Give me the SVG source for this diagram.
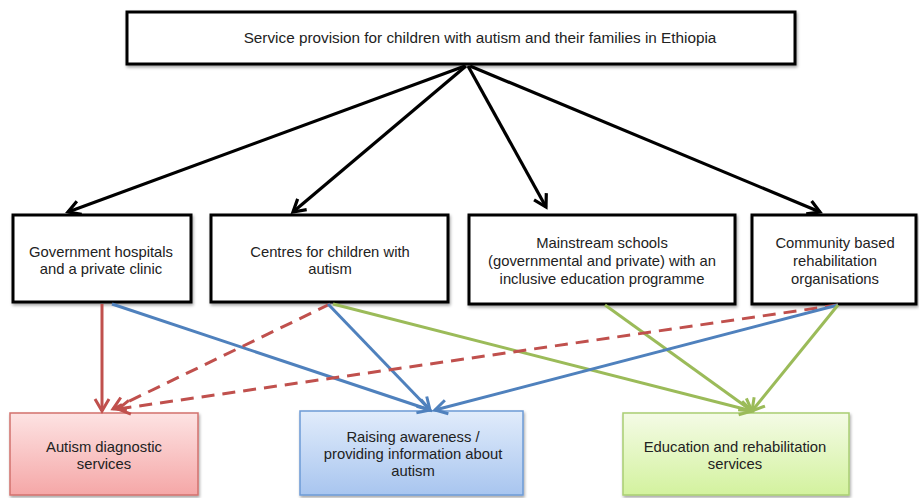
<svg xmlns="http://www.w3.org/2000/svg" width="919" height="498" viewBox="0 0 919 498">
<style>
text{font-family:"Liberation Sans",Arial,sans-serif;fill:#222;text-anchor:middle}
.t{font-size:15.3px}
.m{font-size:14.8px}
.box{fill:#fff;stroke:#000;stroke-width:3}
.blk{stroke:#000;stroke-width:3.2;fill:none}
.c{stroke-width:3;fill:none}
.red{stroke:#c0504d}
.blue{stroke:#4f81bd}
.green{stroke:#9bbb59}
.dash{stroke-dasharray:13 8}
</style>
<defs>
<filter id="sh" x="-5%" y="-5%" width="115%" height="120%">
<feDropShadow dx="1" dy="2" stdDeviation="1.5" flood-color="#000" flood-opacity="0.35"/>
</filter>
<linearGradient id="gr" x1="0" y1="0" x2="0" y2="1"><stop offset="0" stop-color="#fde3e3"/><stop offset="1" stop-color="#f5a7a7"/></linearGradient>
<linearGradient id="gb" x1="0" y1="0" x2="0" y2="1"><stop offset="0" stop-color="#e1ecfb"/><stop offset="1" stop-color="#a8c5ef"/></linearGradient>
<linearGradient id="gg" x1="0" y1="0" x2="0" y2="1"><stop offset="0" stop-color="#f4fbe6"/><stop offset="1" stop-color="#d3f29e"/></linearGradient>
<marker id="ak" markerUnits="userSpaceOnUse" markerWidth="20" markerHeight="20" refX="16" refY="10" orient="auto"><path d="M4,3 L16,10 L4,17" fill="none" stroke="#000" stroke-width="3.2"/></marker>
<marker id="ar" markerUnits="userSpaceOnUse" markerWidth="20" markerHeight="20" refX="16" refY="10" orient="auto"><path d="M4,3 L16,10 L4,17" fill="none" stroke="#c0504d" stroke-width="3"/></marker>
<marker id="ab" markerUnits="userSpaceOnUse" markerWidth="20" markerHeight="20" refX="16" refY="10" orient="auto"><path d="M4,3 L16,10 L4,17" fill="none" stroke="#4f81bd" stroke-width="3"/></marker>
<marker id="ag" markerUnits="userSpaceOnUse" markerWidth="20" markerHeight="20" refX="16" refY="10" orient="auto"><path d="M4,3 L16,10 L4,17" fill="none" stroke="#9bbb59" stroke-width="3"/></marker>
</defs>

<g id="top">
<rect class="box" x="127" y="12" width="668" height="52" filter="url(#sh)"/>
<text class="t" x="480" y="43">Service provision for children with autism and their families in Ethiopia</text>
</g>

<g id="hospitals">
<rect class="box" x="13" y="215" width="178" height="87" filter="url(#sh)"/>
<text class="m" x="101" y="257">Government hospitals</text>
<text class="m" x="101" y="274">and a private clinic</text>
</g>

<g id="centres">
<rect class="box" x="211" y="215" width="237" height="87" filter="url(#sh)"/>
<text class="m" x="330" y="257">Centres for children with</text>
<text class="m" x="330" y="274">autism</text>
</g>

<g id="schools">
<rect class="box" x="469" y="215" width="266" height="89" filter="url(#sh)"/>
<text class="m" x="602" y="248">Mainstream schools</text>
<text class="m" x="602" y="266">(governmental and private) with an</text>
<text class="m" x="602" y="284">inclusive education programme</text>
</g>

<g id="community">
<rect class="box" x="752" y="215" width="164" height="89" filter="url(#sh)"/>
<text class="m" x="835" y="248">Community based</text>
<text class="m" x="835" y="266">rehabilitation</text>
<text class="m" x="835" y="284">organisations</text>
</g>

<g id="diagnostic">
<rect x="10" y="413" width="188" height="82" fill="url(#gr)" stroke="#d2716e" stroke-width="1.5" filter="url(#sh)"/>
<text class="m" x="104" y="452">Autism diagnostic</text>
<text class="m" x="104" y="469">services</text>
</g>

<g id="awareness">
<rect x="300" y="411" width="223" height="84" fill="url(#gb)" stroke="#6c9bd6" stroke-width="1.5" filter="url(#sh)"/>
<text class="m" x="413" y="442">Raising awareness /</text>
<text class="m" x="413" y="459">providing information about</text>
<text class="m" x="413" y="476">autism</text>
</g>

<g id="education">
<rect x="623" y="413" width="226" height="82" fill="url(#gg)" stroke="#a9ce73" stroke-width="1.5" filter="url(#sh)"/>
<text class="m" x="735" y="452">Education and rehabilitation</text>
<text class="m" x="735" y="469">services</text>
</g>

<g id="connectors">
<line class="blk" x1="465" y1="66" x2="68" y2="212" marker-end="url(#ak)"/>
<line class="blk" x1="466" y1="66" x2="293" y2="212" marker-end="url(#ak)"/>
<line class="blk" x1="468" y1="66" x2="546" y2="207" marker-end="url(#ak)"/>
<line class="blk" x1="470" y1="66" x2="820" y2="212" marker-end="url(#ak)"/>

<line class="c red" x1="102" y1="304" x2="102" y2="411" marker-end="url(#ar)"/>
<line class="c blue" x1="112" y1="304" x2="430" y2="410" marker-end="url(#ab)"/>
<line class="c red dash" x1="330" y1="304" x2="113" y2="409" marker-end="url(#ar)"/>
<line class="c blue" x1="328" y1="304" x2="430" y2="410" marker-end="url(#ab)"/>
<line class="c green" x1="333" y1="304" x2="752" y2="411" marker-end="url(#ag)"/>
<line class="c green" x1="605" y1="305" x2="752" y2="411" marker-end="url(#ag)"/>
<line class="c red dash" x1="838" y1="305" x2="118" y2="409" marker-end="url(#ar)"/>
<line class="c blue" x1="838" y1="305" x2="435" y2="410" marker-end="url(#ab)"/>
<line class="c green" x1="838" y1="305" x2="752" y2="411" marker-end="url(#ag)"/>
</g>
</svg>
